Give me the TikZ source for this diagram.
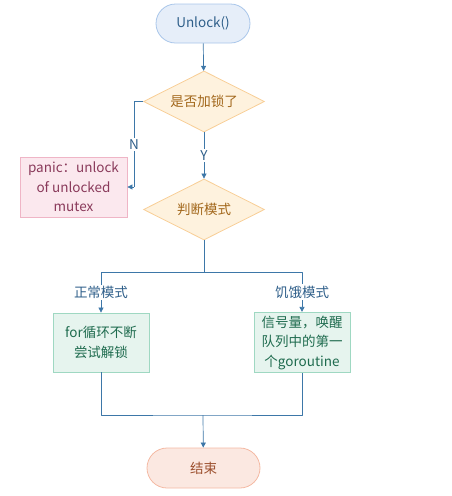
\documentclass[tikz,border=0pt]{standalone}
\usepackage{fontspec}
\setmainfont{Noto Sans CJK SC}
\usetikzlibrary{positioning,shapes.geometric,arrows.meta}

\definecolor{flowline}{HTML}{3D77A8}
\definecolor{flowtext}{HTML}{2F5F8A}
\definecolor{termfill}{HTML}{E6EEF9}
\definecolor{termdraw}{HTML}{A9C6EA}
\definecolor{decfill}{HTML}{FEF2DE}
\definecolor{decdraw}{HTML}{F8CF98}
\definecolor{dectext}{HTML}{A2671B}
\definecolor{errfill}{HTML}{FBE8EE}
\definecolor{errdraw}{HTML}{EFB5C6}
\definecolor{errtext}{HTML}{8A3A5B}
\definecolor{okfill}{HTML}{E6F4EE}
\definecolor{okdraw}{HTML}{9FD8C2}
\definecolor{oktext}{HTML}{1E6B4E}
\definecolor{endfill}{HTML}{FBE8E1}
\definecolor{enddraw}{HTML}{F4B9A3}
\definecolor{endtext}{HTML}{9C4F2E}

\tikzset{
  pill/.style = {shape = rectangle, rounded corners = 19.5pt, minimum width = 94pt, minimum height = 39pt, line width = 0.8pt, font = \fontsize{13.5}{16}\selectfont},
  decision/.style = {shape = diamond, aspect = 2, inner sep = 0pt, minimum width = 121pt, minimum height = 61pt, fill = decfill, draw = decdraw, line width = 0.8pt, text = dectext, font = \fontsize{13.5}{16}\selectfont},
  box/.style = {shape = rectangle, align = center, line width = 0.8pt, font = \fontsize{13.5}{19.5}\selectfont},
  flow/.style = {draw = flowline, line width = 0.7pt, line join = round},
  flowarrow/.style = {flow, -{Triangle[length = 5pt, width = 5pt]}},
  lbl/.style = {fill = white, inner sep = 1.5pt, text = flowtext, font = \fontsize{13.5}{16}\selectfont}
}

\begin{document}
\begin{tikzpicture}[x = 1pt, y = -1pt]
\useasboundingbox (0,0) rectangle (452,496);

% terminals and decisions
\node[pill, fill = termfill, draw = termdraw, text = flowtext] (unlock) at (203,23.5) {Unlock()};
\node[decision] (locked) at (204,101.5) {是否加锁了};
\node[decision] (mode) at (204,209.5) {判断模式};
\node[box, fill = errfill, draw = errdraw, text = errtext, minimum width = 107pt, minimum height = 60pt] (panic) at (73.5,187) {panic：unlock\\of unlocked\\mutex};
\node[box, fill = okfill, draw = okdraw, text = oktext, minimum width = 96pt, minimum height = 59pt] (normal) at (101,342.5) {for循环不断\\尝试解锁};
\node[box, fill = okfill, draw = okdraw, text = oktext, minimum width = 96pt, minimum height = 59pt] (starve) at (302,342.5) {信号量，唤醒\\队列中的第一\\个goroutine};
\node[pill, fill = endfill, draw = enddraw, text = endtext, minimum width = 113pt, minimum height = 40pt, rounded corners = 20pt] (done) at (203.5,468) {结束};

% helper points
\coordinate (nturn) at (134,187);
\coordinate (split) at (204,272);
\coordinate (merge) at (203,415);

% connectors
\draw[flowarrow] (unlock) -- (locked);
\draw[flow] (locked.west) -| (nturn) node[lbl, pos = 0.75] {N};
\draw[flowarrow] (nturn) -- (panic.east);
\draw[flowarrow] (locked) -- node[lbl] {Y} (mode);
\draw[flow] (mode.south) -- (split);
\draw[flowarrow] (split) -| node[lbl, pos = 0.75] {正常模式} (normal);
\draw[flowarrow] (split) -| node[lbl, pos = 0.75] {饥饿模式} (starve);
\draw[flow] (normal.south) |- (merge) -- (merge -| starve.south) -- (starve.south);
\draw[flowarrow] (merge) -- (done);
\end{tikzpicture}
\end{document}
